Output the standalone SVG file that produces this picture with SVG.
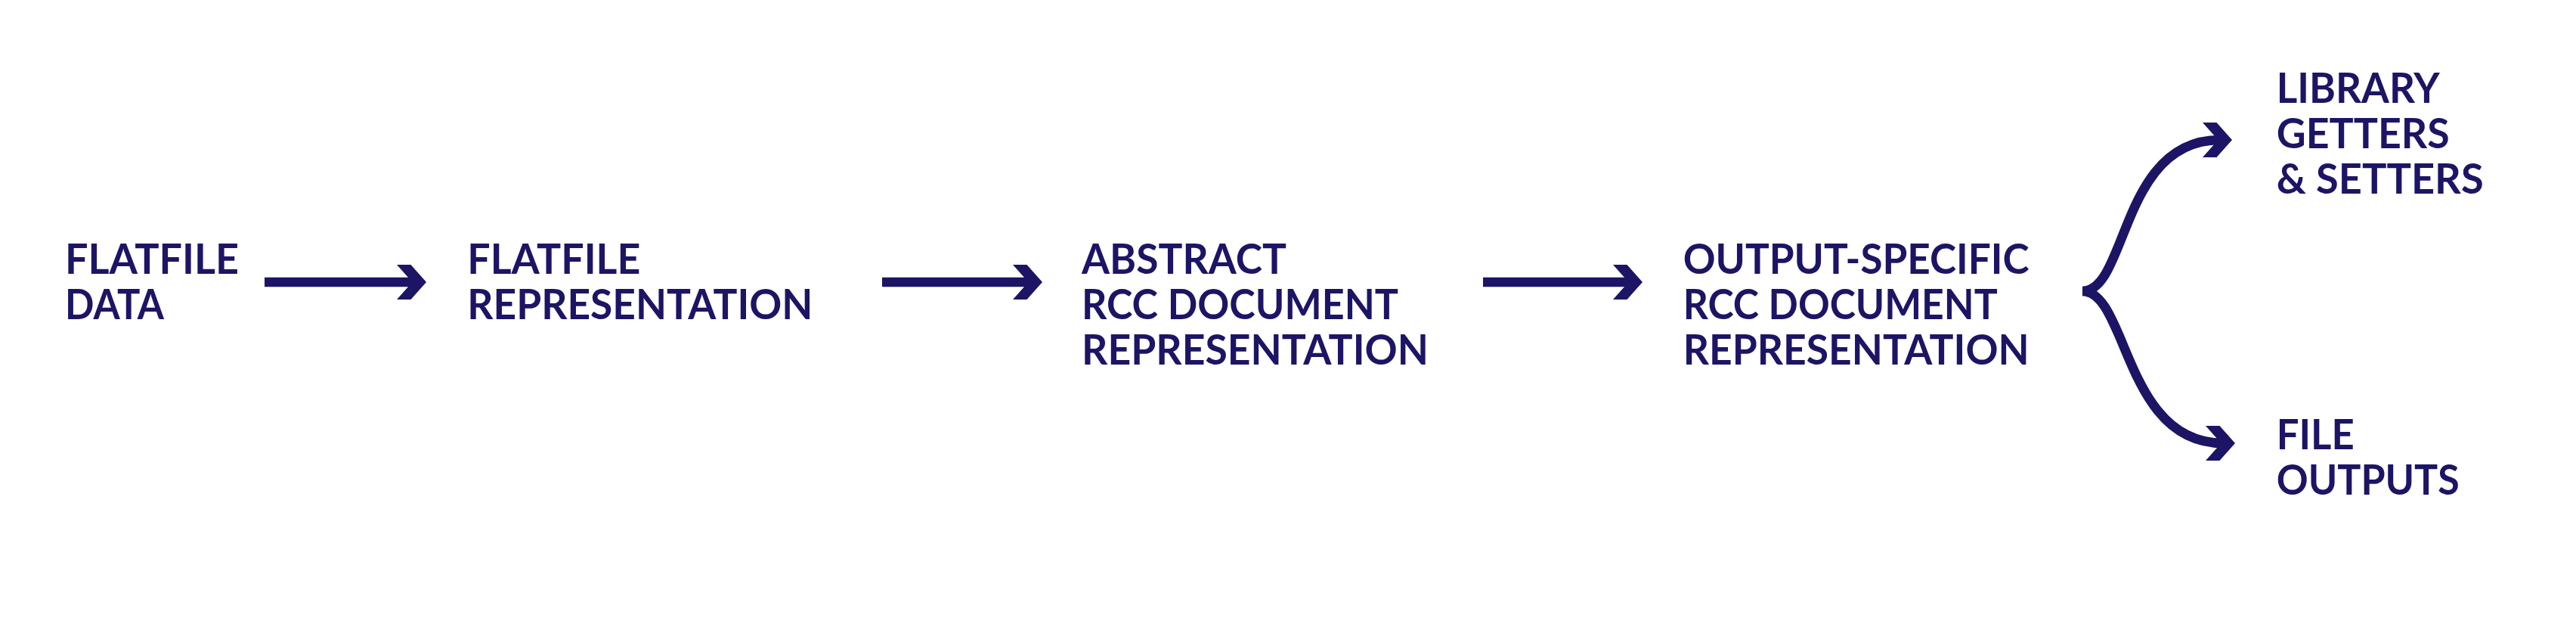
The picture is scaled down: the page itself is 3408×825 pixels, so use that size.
<svg xmlns="http://www.w3.org/2000/svg" width="3408" height="825" viewBox="0 0 3408 825">
<style>
.t{font-family:Lato,"Liberation Sans",sans-serif;font-weight:700;font-size:55px;fill:#1c1565}
.c{fill:none;stroke:#1c1565;stroke-width:12.5;stroke-linecap:butt}
</style>
<defs>
<marker id="ah" markerUnits="userSpaceOnUse" viewBox="0 0 40 46" markerWidth="40" markerHeight="46" refX="23" refY="23" orient="auto" overflow="visible">
<path d="M0,0 h18.5 l20.5,23 l-20.5,23 h-18.5 l20.5,-23 z" fill="#1c1565"/>
</marker>
</defs>
<rect width="3408" height="825" fill="#ffffff"/>
<g id="connectors">
<path class="c" d="M350,373 H548" marker-end="url(#ah)"/>
<path class="c" d="M1167,373 H1363" marker-end="url(#ah)"/>
<path class="c" d="M1962,373 H2157" marker-end="url(#ah)"/>
<path class="c" d="M2755,385 C2815,385 2805,185 2937,185" marker-end="url(#ah)"/>
<path class="c" d="M2755,385 C2815,385 2810,586 2941,586" marker-end="url(#ah)"/>
</g>
<g id="n1">
<text class="t" x="86" y="361.7" textLength="230" lengthAdjust="spacingAndGlyphs">FLATFILE</text>
<text class="t" x="86" y="421.7" textLength="131" lengthAdjust="spacingAndGlyphs">DATA</text>
</g>
<g id="n2">
<text class="t" x="618.3" y="361.7" textLength="229" lengthAdjust="spacingAndGlyphs">FLATFILE</text>
<text class="t" x="618.3" y="421.7" textLength="457" lengthAdjust="spacingAndGlyphs">REPRESENTATION</text>
</g>
<g id="n3">
<text class="t" x="1431" y="361.7" textLength="271" lengthAdjust="spacingAndGlyphs">ABSTRACT</text>
<text class="t" x="1431" y="421.7" textLength="419" lengthAdjust="spacingAndGlyphs">RCC DOCUMENT</text>
<text class="t" x="1431" y="481.7" textLength="459" lengthAdjust="spacingAndGlyphs">REPRESENTATION</text>
</g>
<g id="n4">
<text class="t" x="2226.7" y="361.7" textLength="458" lengthAdjust="spacingAndGlyphs">OUTPUT-SPECIFIC</text>
<text class="t" x="2226.7" y="421.7" textLength="416" lengthAdjust="spacingAndGlyphs">RCC DOCUMENT</text>
<text class="t" x="2226.7" y="481.7" textLength="458" lengthAdjust="spacingAndGlyphs">REPRESENTATION</text>
</g>
<g id="n5">
<text class="t" x="3011.7" y="136" textLength="216" lengthAdjust="spacingAndGlyphs">LIBRARY</text>
<text class="t" x="3011.7" y="195.8" textLength="229" lengthAdjust="spacingAndGlyphs">GETTERS</text>
<text class="t" x="3011.7" y="255.6" textLength="274" lengthAdjust="spacingAndGlyphs">&amp; SETTERS</text>
</g>
<g id="n6">
<text class="t" x="3011.7" y="594" textLength="103" lengthAdjust="spacingAndGlyphs">FILE</text>
<text class="t" x="3011.7" y="654" textLength="242" lengthAdjust="spacingAndGlyphs">OUTPUTS</text>
</g>
</svg>
